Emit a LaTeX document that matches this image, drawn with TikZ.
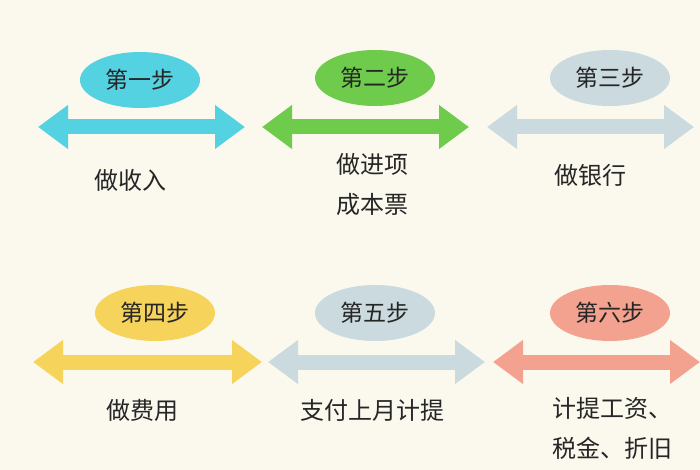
\documentclass[tikz,border=0pt]{standalone}
\usepackage{fontspec}
\setmainfont{Noto Sans CJK SC}
\usetikzlibrary{arrows.meta,shapes.geometric}
\definecolor{bg}{HTML}{FBF8EE}
\definecolor{cA}{HTML}{55D2E2}
\definecolor{cB}{HTML}{6FCB4C}
\definecolor{cC}{HTML}{CADADF}
\definecolor{cD}{HTML}{F6D35A}
\definecolor{cF}{HTML}{F2A28E}
\tikzset{
  stepel/.style={ellipse,minimum width=120pt,minimum height=56pt,inner sep=0pt,font=\fontsize{23pt}{26pt}\selectfont,text=black!85},
  dbl/.style={line width=15pt,{Triangle[width=42pt,length=30pt]}-{Triangle[width=42pt,length=30pt]}},
  lbl/.style={font=\fontsize{24pt}{40pt}\selectfont,text=black!85,align=center}
}
\begin{document}
\begin{tikzpicture}[x=1pt,y=-1pt]
\fill[bg] (0,0) rectangle (700,470);
\useasboundingbox (0,0) rectangle (700,470);
% row 1
\node[stepel,fill=cA] (s1) at (140,80) {第一步};
\node[stepel,fill=cB] (s2) at (375,78) {第二步};
\node[stepel,fill=cC] (s3) at (610,78) {第三步};
\coordinate (a1l) at (38,127); \coordinate (a1r) at (245,127);
\coordinate (a2l) at (262,127); \coordinate (a2r) at (469,127);
\coordinate (a3l) at (487,127); \coordinate (a3r) at (694,127);
\draw[dbl,cA] (a1l) -- (a1r);
\draw[dbl,cB] (a2l) -- (a2r);
\draw[dbl,cC] (a3l) -- (a3r);
\node[lbl] (t1) at (130,180) {做收入};
\node[lbl] (t2) at (372,184) {做进项\\成本票};
\node[lbl] (t3) at (590,175) {做银行};
% row 2
\node[stepel,fill=cD] (s4) at (155,313) {第四步};
\node[stepel,fill=cC] (s5) at (375,313) {第五步};
\node[stepel,fill=cF] (s6) at (610,313) {第六步};
\coordinate (a4l) at (33,362); \coordinate (a4r) at (262,362);
\coordinate (a5l) at (268,362); \coordinate (a5r) at (485,362);
\coordinate (a6l) at (493,362); \coordinate (a6r) at (700,362);
\draw[dbl,cD] (a4l) -- (a4r);
\draw[dbl,cC] (a5l) -- (a5r);
\draw[dbl,cF] (a6l) -- (a6r);
\node[lbl] (t4) at (142,410) {做费用};
\node[lbl] (t5) at (372,410) {支付上月计提};
\node[lbl] (t6) at (612,428) {计提工资、\\税金、折旧};
\end{tikzpicture}
\end{document}
